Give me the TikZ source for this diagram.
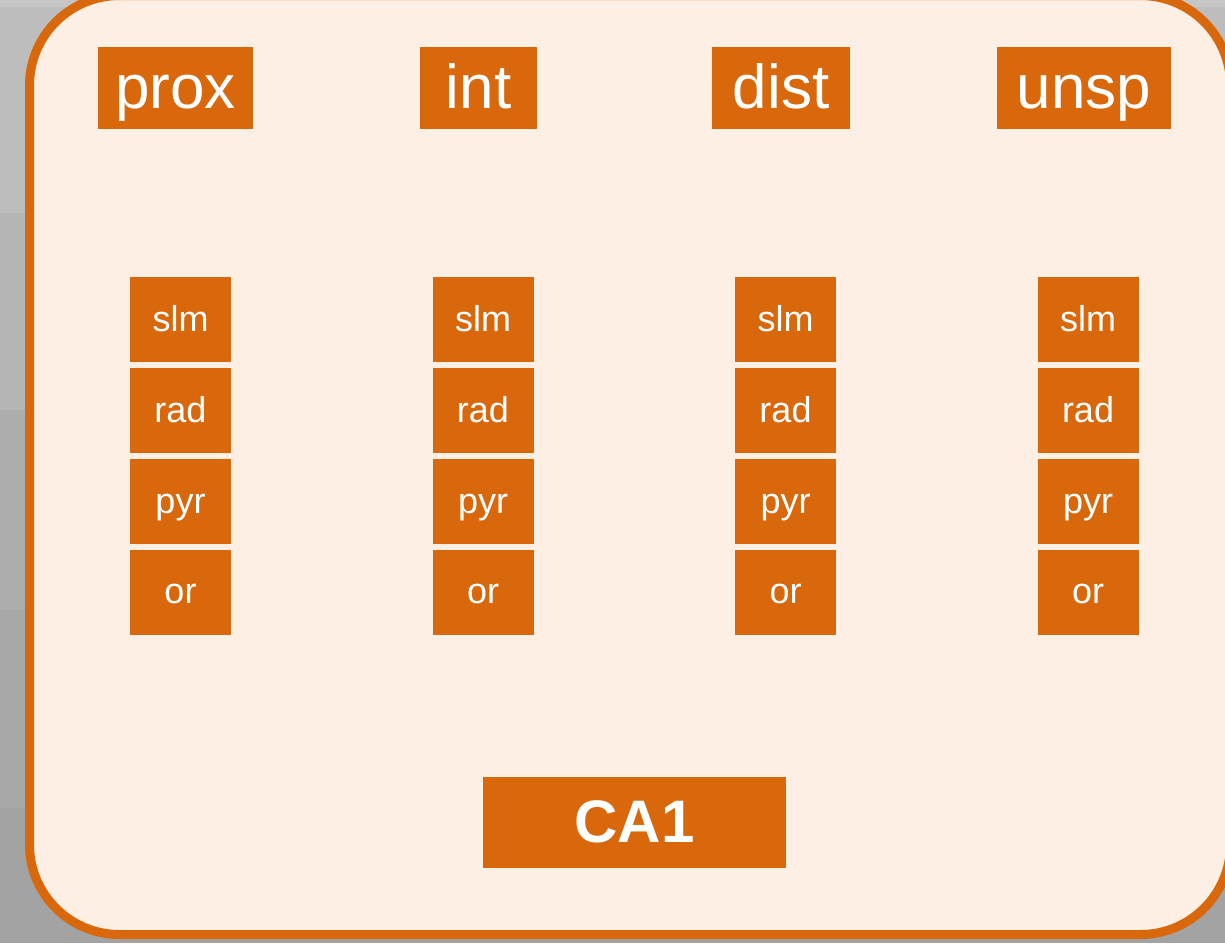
\documentclass[tikz,border=0pt]{standalone}
\usepackage{fontspec}
\setmainfont{Liberation Sans}
\definecolor{rust}{RGB}{217,103,11}
\definecolor{cream}{RGB}{253,239,228}
\begin{document}
\begin{tikzpicture}[x=1pt,y=-1pt,
  region/.style={fill=rust,text=white,inner xsep=0pt,inner ysep=0pt,
    text height=61pt,text depth=21pt,
    font=\fontsize{62}{70}\selectfont},
  layer/.style={fill=rust,text=white,inner sep=0pt,minimum width=101pt,
    text height=54pt,text depth=31pt,font=\fontsize{36}{40}\selectfont},
  field/.style={fill=rust,text=white,inner sep=0pt,minimum width=303pt,
    text height=65.5pt,text depth=25.5pt,font=\fontsize{60}{66}\selectfont\bfseries}]
  \useasboundingbox (0,0) rectangle (1225,943);
  % banded grey backdrop
  \fill[gray!45!white] (0,0) rectangle (1225,7);
  \fill[black!26] (0,7) rectangle (1225,213);
  \fill[black!29] (0,213) rectangle (1225,410);
  \fill[black!32] (0,410) rectangle (1225,610);
  \fill[black!34] (0,610) rectangle (1225,808);
  \fill[black!36] (0,808) rectangle (1225,943);
  % hippocampal field panel
  \draw[rust,fill=cream,line width=9pt,rounded corners=90pt]
    (29.5,-4.5) rectangle (1230.5,934.5);
  % axis labels
  \node[region,minimum width=155pt] (prox) at (175.5,88) {prox};
  \node[region,minimum width=117pt] (int)  at (478.5,88) {int};
  \node[region,minimum width=138pt] (dist) at (781,88) {dist};
  \node[region,minimum width=174pt] (unsp) at (1084,88) {unsp};
  % laminar stacks
  \foreach \c/\x in {p/180.5,i/483,d/785.5,u/1088}{
    \node[layer] (\c slm) at (\x,319.5) {slm};
    \node[layer] (\c rad) at (\x,410.5) {rad};
    \node[layer] (\c pyr) at (\x,501.5) {pyr};
    \node[layer] (\c or)  at (\x,592) {or};
  }
  \node[field] (ca1) at (634.5,822.5) {CA1};
\end{tikzpicture}
\end{document}
